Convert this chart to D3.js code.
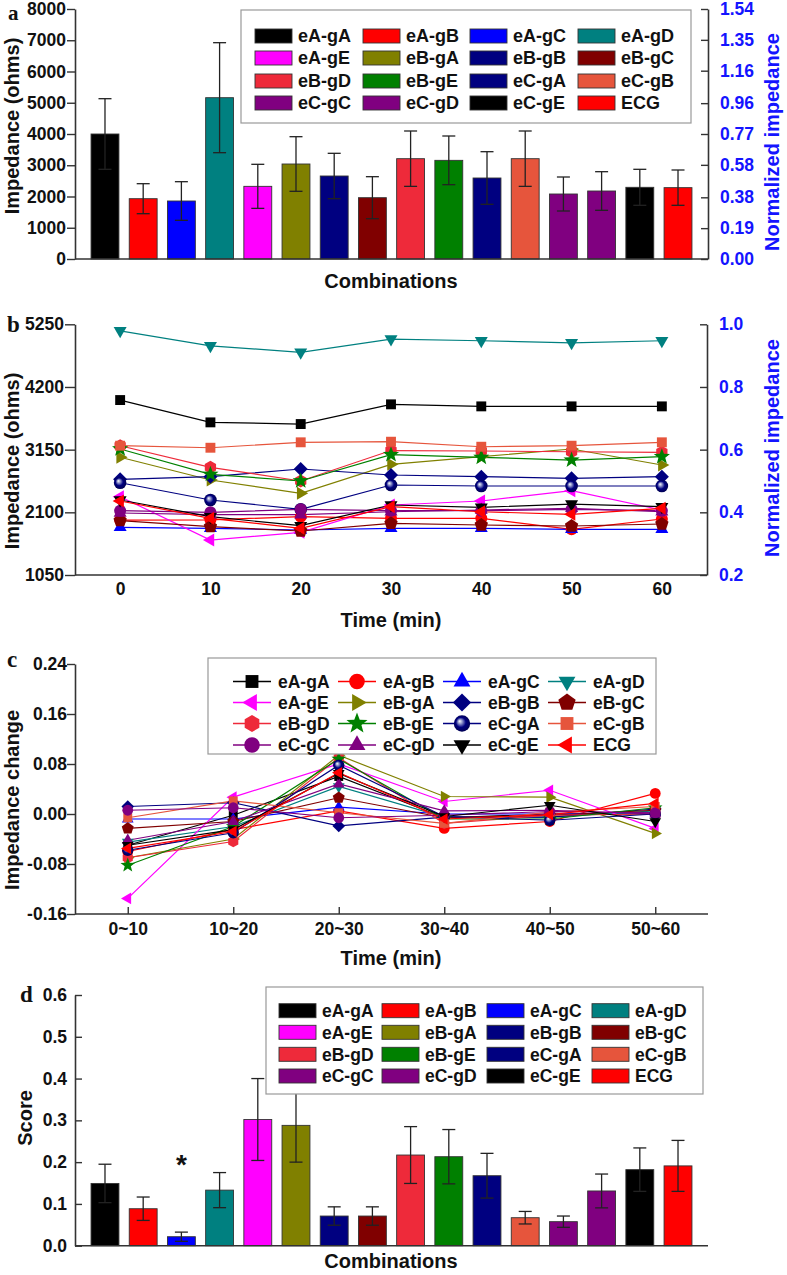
<!DOCTYPE html>
<html><head><meta charset="utf-8">
<script src="https://cdn.jsdelivr.net/npm/d3@7"></script>
<style>
body{margin:0;background:#fff}
svg{display:block}
text{font-family:"Liberation Sans",Arial,sans-serif;font-weight:bold}
</style>
</head><body>
<svg id="chart" width="787" height="1275"></svg>
<script>
// ---------------- DATA ----------------
const combos = ["eA-gA","eA-gB","eA-gC","eA-gD","eA-gE","eB-gA","eB-gB","eB-gC","eB-gD","eB-gE","eC-gA","eC-gB","eC-gC","eC-gD","eC-gE","ECG"];
const colors = ["#000000","#ff0000","#0000ff","#008080","#ff00ff","#808000","#000080","#800000","#ee2a3a","#008000","#000080","#e6553c","#800080","#800080","#000000","#ff0000"];
const markers = ["square","circle","triUp","triDown","triLeft","triRight","diamond","pentagon","hexagon","star","sphere","square","circle","triUp","triDown","triLeft"];

// panel a
const impedanceMean = [4000,1930,1856,5162,2325,3040,2656,1962,3210,3157,2592,3210,2080,2176,2294,2283];
const impedanceErr  = [1130,480,618,1760,705,874,726,672,886,779,842,886,544,618,576,565];
const impTicks = [0,1000,2000,3000,4000,5000,6000,7000,8000];
const normTicksA = ["0.00","0.19","0.38","0.58","0.77","0.96","1.16","1.35","1.54"];

// panel b
const times = [0,10,20,30,40,50,60];
const impOverTime = [
  [3981,3607,3579,3909,3875,3875,3875], // eA-gA
  [1971,1975,2027,2000,2000,1816,1988], // eA-gB
  [1849,1832,1804,1832,1832,1816,1816], // eA-gC
  [5141,4890,4780,5002,4974,4940,4974], // eA-gD
  [2362,1636,1765,2223,2290,2462,2139], // eA-gE
  [3022,2641,2419,2904,3032,3161,2893], // eB-gA
  [2653,2697,2826,2725,2697,2670,2697], // eB-gB
  [1960,1859,1787,1916,1888,1871,1904], // eB-gC
  [3216,2854,2625,3135,3127,3115,3105], // eB-gD
  [3161,2737,2625,3065,3022,2976,3032], // eB-gE
  [2596,2306,2151,2558,2541,2541,2541], // eC-gA
  [3216,3182,3273,3283,3199,3216,3273], // eC-gB
  [2127,2100,2150,2127,2127,2150,2127], // eC-gC
  [2089,2060,2060,2110,2139,2167,2110], // eC-gD
  [2306,2027,1876,2223,2184,2239,2194], // eC-gE
  [2290,2000,1832,2194,2110,2067,2167]  // ECG
];
const impTicksB = [1050,2100,3150,4200,5250];
const normTicksB = [0.2,0.4,0.6,0.8,1.0];

// panel c
const intervals = ["0~10","10~20","20~30","30~40","40~50","50~60"];
const impChange = [
  [-0.050,-0.002,0.060,-0.006,0.000,0.000],
  [-0.060,-0.025,0.005,-0.023,-0.012,0.033],
  [-0.008,-0.008,0.011,0.000,0.000,0.002],
  [-0.045,-0.020,0.044,-0.005,-0.005,0.005],
  [-0.135,0.027,0.080,0.020,0.038,-0.023],
  [-0.070,-0.040,0.094,0.028,0.027,-0.031],
  [0.012,0.018,-0.019,-0.005,-0.005,0.008],
  [-0.023,-0.012,0.026,-0.006,-0.002,0.006],
  [-0.070,-0.044,0.090,-0.015,-0.002,0.000],
  [-0.082,-0.020,0.088,-0.008,-0.008,0.010],
  [-0.058,-0.030,0.078,-0.004,-0.010,0.000],
  [-0.006,0.021,0.002,-0.015,0.003,0.012],
  [0.006,0.010,-0.006,-0.002,0.004,0.002],
  [-0.042,-0.012,0.048,0.005,0.006,0.000],
  [-0.050,-0.025,0.065,-0.004,0.014,-0.012],
  [-0.055,-0.028,0.066,-0.008,-0.001,0.017]
];
const changeTicks = [-0.16,-0.08,0.00,0.08,0.16,0.24];

// panel d
const scoreMean = [0.149,0.0885,0.0215,0.133,0.302,0.288,0.071,0.071,0.217,0.213,0.1675,0.067,0.0575,0.131,0.182,0.191];
const scoreErr  = [0.046,0.028,0.011,0.042,0.098,0.088,0.022,0.022,0.068,0.065,0.0535,0.015,0.0135,0.0405,0.052,0.061];
const scoreTicks = [0.0,0.1,0.2,0.3,0.4,0.5,0.6];

// ---------------- SETUP ----------------
const svg = d3.select("#chart");
const defs = svg.append("defs");
const grad = defs.append("radialGradient").attr("id","sphere").attr("cx","50%").attr("cy","50%").attr("r","55%").attr("fx","35%").attr("fy","35%");
grad.append("stop").attr("offset","0%").attr("stop-color","#ffffff");
grad.append("stop").attr("offset","22%").attr("stop-color","#9aa0d0");
grad.append("stop").attr("offset","55%").attr("stop-color","#000080");
grad.append("stop").attr("offset","100%").attr("stop-color","#00004a");

const AX = "#333";
const L = 75, R = 708;
const BLUE = "#1414ff";

function poly(n, rot){
  return {draw(ctx, size){
    const r = Math.sqrt(size);
    for(let i=0;i<n;i++){
      const a = rot + i*2*Math.PI/n;
      const x = r*Math.sin(a), y = -r*Math.cos(a);
      if(i) ctx.lineTo(x,y); else ctx.moveTo(x,y);
    }
    ctx.closePath();
  }};
}
const circleType = {draw(ctx,size){const r=Math.sqrt(size);ctx.moveTo(r,0);ctx.arc(0,0,r,0,2*Math.PI);}};
const starType = {draw(ctx,size){
  const r=Math.sqrt(size), ri=r*0.42;
  for(let i=0;i<10;i++){const rr=i%2?ri:r;const a=i*Math.PI/5;const x=rr*Math.sin(a),y=-rr*Math.cos(a);if(i)ctx.lineTo(x,y);else ctx.moveTo(x,y);}
  ctx.closePath();
}};
const symTypes = {
  square: [poly(4,Math.PI/4),7],
  circle: [circleType,6],
  triUp: [poly(3,0),7.5],
  triDown: [poly(3,Math.PI),7.5],
  triLeft: [poly(3,-Math.PI/2),7.5],
  triRight: [poly(3,Math.PI/2),7.5],
  diamond: [poly(4,0),7],
  pentagon: [poly(5,0),7],
  hexagon: [poly(6,0),6.5],
  star: [starType,8.5],
  sphere: [circleType,6.3]
};
function symPath(name, k){
  const [t,r] = symTypes[name];
  const rr = r*(k||1);
  return d3.symbol().type(t).size(rr*rr)();
}
function markerFill(i){ return markers[i]==="sphere" ? "url(#sphere)" : colors[i]; }

function styleAxis(g, fs){
  g.select(".domain").attr("stroke",AX).attr("stroke-width",1.6);
  g.selectAll(".tick line").attr("stroke",AX).attr("stroke-width",1.4);
  g.selectAll(".tick text").style("font-size",(fs||17.5)+"px").style("font-weight","bold").attr("fill","#111")
    .style("font-family","'Liberation Sans',Arial,sans-serif");
}
function label(x,y,txt,opts){
  opts=opts||{};
  const t = svg.append("text").attr("x",x).attr("y",y).text(txt)
    .style("font-size",(opts.fs||20)+"px").attr("fill",opts.fill||"#111").attr("text-anchor",opts.anchor||"middle");
  if(opts.rot) t.attr("transform",`rotate(${opts.rot},${x},${y})`);
  if(opts.serif) t.style("font-family","'Liberation Serif','Times New Roman',serif");
  return t;
}

// ---------------- bar panel helper ----------------
function barPanel(yScale, means, errs, top, bottom){
  const x = d3.scaleBand().domain(combos).range([L,R]).paddingInner(0.27).paddingOuter(0.42);
  const g = svg.append("g");
  g.selectAll("rect.bar").data(combos).join("rect")
    .attr("x",d=>x(d)).attr("width",x.bandwidth())
    .attr("y",(d,i)=>yScale(means[i])).attr("height",(d,i)=>yScale(0)-yScale(means[i]))
    .attr("fill",(d,i)=>colors[i]).attr("stroke","#333").attr("stroke-width",0.9);
  const cap = 6.5;
  combos.forEach((d,i)=>{
    const cx = x(d)+x.bandwidth()/2;
    const y1 = yScale(means[i]+errs[i]), y0 = yScale(means[i]-errs[i]);
    g.append("line").attr("x1",cx).attr("x2",cx).attr("y1",y1).attr("y2",y0).attr("stroke","#222").attr("stroke-width",1.3);
    g.append("line").attr("x1",cx-cap).attr("x2",cx+cap).attr("y1",y1).attr("y2",y1).attr("stroke","#222").attr("stroke-width",1.3);
    g.append("line").attr("x1",cx-cap).attr("x2",cx+cap).attr("y1",y0).attr("y2",y0).attr("stroke","#222").attr("stroke-width",1.3);
  });
  svg.append("line").attr("x1",L).attr("x2",R).attr("y1",bottom).attr("y2",bottom).attr("stroke",AX).attr("stroke-width",1.6);
  return x;
}
function barLegend(x0,y0,x1,y1,rowYs,colXs,fs){
  const g = svg.append("g");
  g.append("rect").attr("x",x0).attr("y",y0).attr("width",x1-x0).attr("height",y1-y0)
    .attr("fill","#fff").attr("stroke","#999").attr("stroke-width",1.2);
  combos.forEach((c,i)=>{
    const row = Math.floor(i/4), col = i%4;
    const sx = colXs[col], sy = rowYs[row];
    g.append("rect").attr("x",sx).attr("y",sy-7).attr("width",37).attr("height",14)
      .attr("fill",colors[i]).attr("stroke","#333").attr("stroke-width",0.9);
    g.append("text").attr("x",sx+43).attr("y",sy).attr("dy","0.36em").style("font-size",fs+"px").attr("fill","#111").text(c);
  });
}

// ================= PANEL A =================
{
  const y = d3.scaleLinear().domain([0,8000]).range([259,9]);
  const yn = d3.scaleLinear().domain([0,1.54]).range([259,9]);
  barPanel(y, impedanceMean, impedanceErr, 9, 259);
  const ga = svg.append("g").attr("transform",`translate(${L},0)`)
    .call(d3.axisLeft(y).tickValues(impTicks).tickFormat(d3.format("d")).tickSizeInner(8).tickSizeOuter(0).tickPadding(1));
  styleAxis(ga);
  const gr = svg.append("g").attr("transform",`translate(${R},0)`)
    .call(d3.axisRight(yn).tickValues(normTicksA.map(Number)).tickFormat((d,i)=>normTicksA[i]).tickSizeInner(-7).tickSizeOuter(0).tickPadding(12));
  styleAxis(gr); gr.selectAll(".tick text").attr("fill",BLUE);
  barLegend(241,10,691,123,[36,58,81,103],[255,363,470,578],18);
  label(19,126,"Impedance (ohms)",{rot:-90});
  label(779,142,"Normalized impedance",{rot:-90,fill:BLUE});
  label(391,288,"Combinations");
  label(8,20,"a",{anchor:"start",serif:true,fs:21});
}

// ================= PANEL B =================
{
  const x = d3.scaleLinear().domain([-5,65]).range([L,707]);
  const y = d3.scaleLinear().domain([1050,5250]).range([575,324.3]);
  const yn = d3.scaleLinear().domain([0.2,1.0]).range([575,324.3]);
  const gx = svg.append("g").attr("transform","translate(0,575)")
    .call(d3.axisBottom(x).tickValues(times).tickFormat(d3.format("d")).tickSizeInner(0).tickSizeOuter(0).tickPadding(7.5));
  styleAxis(gx);
  gx.select(".domain").attr("d",`M${L},0H707`);
  const gy = svg.append("g").attr("transform",`translate(${L},0)`)
    .call(d3.axisLeft(y).tickValues(impTicksB).tickFormat(d3.format("d")).tickSizeInner(10).tickSizeOuter(0).tickPadding(1));
  styleAxis(gy);
  const gr = svg.append("g").attr("transform","translate(707,0)")
    .call(d3.axisRight(yn).tickValues(normTicksB).tickFormat(d3.format(".1f")).tickSizeInner(-7).tickSizeOuter(0).tickPadding(12));
  styleAxis(gr); gr.selectAll(".tick text").attr("fill",BLUE);
  const line = d3.line().x((d,i)=>x(times[i])).y(d=>y(d));
  impOverTime.forEach((s,i)=>{
    svg.append("path").attr("d",line(s)).attr("fill","none").attr("stroke",colors[i]).attr("stroke-width",1.2);
  });
  impOverTime.forEach((s,i)=>{
    svg.append("g").selectAll("path").data(s).join("path")
      .attr("transform",(d,j)=>`translate(${x(times[j])},${y(d)})`)
      .attr("d",symPath(markers[i])).attr("fill",markerFill(i));
  });
  label(19,461,"Impedance (ohms)",{rot:-90});
  label(779,448,"Normalized impedance",{rot:-90,fill:BLUE});
  label(391,627,"Time (min)");
  label(7,332,"b",{anchor:"start",serif:true,fs:23});
}

// ================= PANEL C =================
{
  const x = d3.scalePoint().domain(intervals).range([L,R]).padding(0.5);
  const y = d3.scaleLinear().domain([-0.16,0.24]).range([914,664]);
  const gx = svg.append("g").attr("transform","translate(0,914)")
    .call(d3.axisBottom(x).tickSizeInner(-7).tickSizeOuter(0).tickPadding(8.5));
  styleAxis(gx);
  gx.select(".domain").attr("d",`M${L},0H${R}`);
  const gy = svg.append("g").attr("transform",`translate(${L},0)`)
    .call(d3.axisLeft(y).tickValues(changeTicks).tickFormat(d3.format(".2f")).tickSizeInner(8).tickSizeOuter(0).tickPadding(0));
  styleAxis(gy);
  gy.selectAll(".tick text").text(d=>d3.format(".2f")(d).replace("\u2212","-"));
  const line = d3.line().x((d,i)=>x(intervals[i])).y(d=>y(d));
  impChange.forEach((s,i)=>{
    svg.append("path").attr("d",line(s)).attr("fill","none").attr("stroke",colors[i]).attr("stroke-width",1.2);
  });
  impChange.forEach((s,i)=>{
    svg.append("g").selectAll("path").data(s).join("path")
      .attr("transform",(d,j)=>`translate(${x(intervals[j])},${y(d)})`)
      .attr("d",symPath(markers[i],0.9)).attr("fill",markerFill(i));
  });
  const lg = svg.append("g");
  lg.append("rect").attr("x",208).attr("y",658).attr("width",448).attr("height",96)
    .attr("fill","#fff").attr("stroke","#999").attr("stroke-width",1.2);
  const rowYs=[681.5,702.5,723.5,745], colXs=[233,338,443,548];
  combos.forEach((c,i)=>{
    const row=Math.floor(i/4), col=i%4, lx=colXs[col], ly=rowYs[row];
    lg.append("line").attr("x1",lx).attr("x2",lx+38).attr("y1",ly).attr("y2",ly).attr("stroke",colors[i]).attr("stroke-width",1.3);
    lg.append("path").attr("transform",`translate(${lx+19},${ly})`).attr("d",symPath(markers[i],1.3)).attr("fill",markerFill(i));
    lg.append("text").attr("x",lx+45).attr("y",ly).attr("dy","0.36em").style("font-size","17.5px").attr("fill","#111").text(c);
  });
  label(19,800,"Impedance change",{rot:-90});
  label(391,965,"Time (min)");
  label(7,667,"c",{anchor:"start",serif:true,fs:23});
}

// ================= PANEL D =================
{
  const y = d3.scaleLinear().domain([0,0.6]).range([1245.7,995]);
  const x = barPanel(y, scoreMean, scoreErr, 995, 1245.7);
  const gy = svg.append("g").attr("transform",`translate(${L},0)`)
    .call(d3.axisLeft(y).tickValues(scoreTicks).tickFormat(d3.format(".1f")).tickSizeInner(-7).tickSizeOuter(0).tickPadding(8));
  styleAxis(gy);
  barLegend(266,987,703,1094,[1010.7,1032.3,1054.3,1076],[279,382,487,592],17.5);
  svg.append("text").attr("x",x("eA-gC")+x.bandwidth()/2).attr("y",1174).attr("text-anchor","middle")
    .style("font-size","28px").attr("fill","#111").text("*");
  label(32,1118,"Score",{rot:-90});
  label(391,1268,"Combinations");
  label(20,1002,"d",{anchor:"start",serif:true,fs:23});
}
</script>
</body></html>
